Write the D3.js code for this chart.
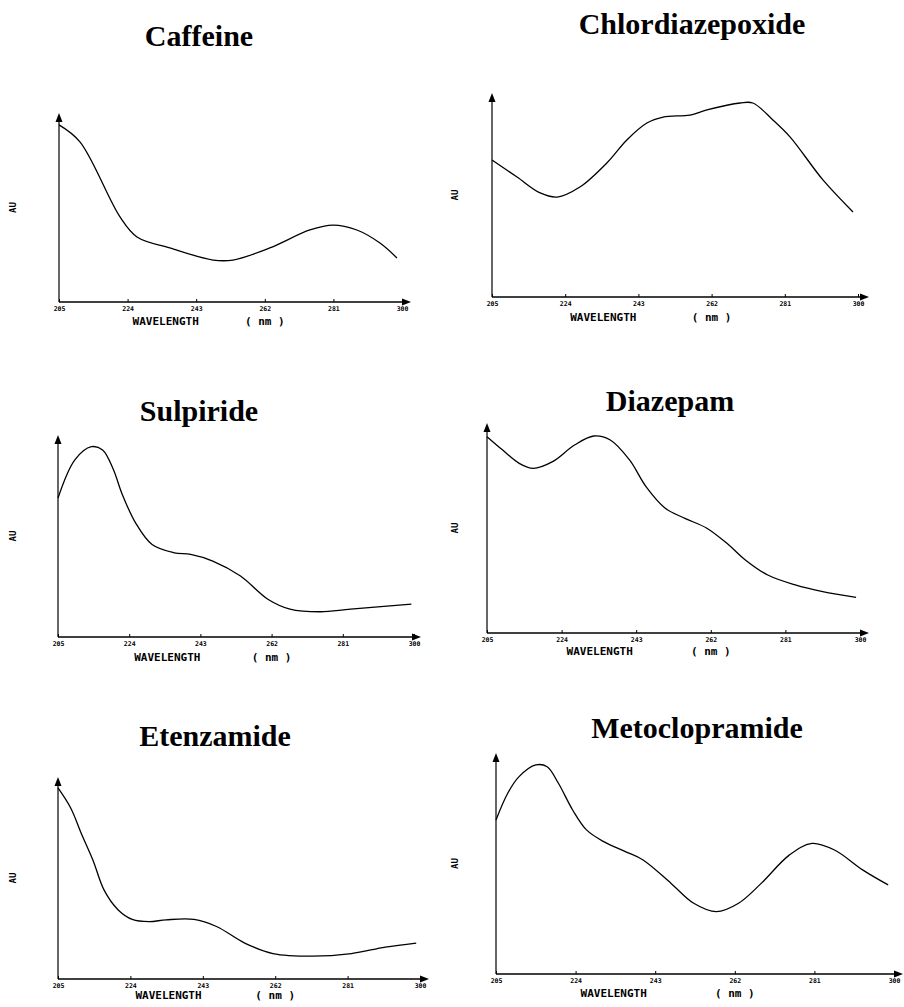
<!DOCTYPE html>
<html>
<head>
<meta charset="utf-8">
<script src="https://cdn.jsdelivr.net/npm/d3@7"></script>
<style>
  body { margin: 0; background: #fff; }
  svg { display: block; }
</style>
</head>
<body>
<div id="chart"></div>
<script>
// wavelength ticks (nm)
var xTickLabels = [205, 224, 243, 262, 281, 300];

// spectra: wavelength (nm) and relative absorbance (AU, 0..1 of the axis)
var caffeineWl = [205, 210.8, 221.9, 226.6, 235.7, 247.7, 253.2, 263.4, 274.5, 280.9, 287.5, 293.9, 298.6];
var caffeineAu = [0.937, 0.847, 0.450, 0.344, 0.286, 0.222, 0.222, 0.286, 0.381, 0.407, 0.381, 0.312, 0.233];

var chlordiazepoxideWl = [205, 211.5, 217.5, 221.9, 227.8, 234.8, 240, 245.2, 249.4, 256.4, 260.8, 269.4, 272.7, 277.9, 282.4, 290.9, 298.7];
var chlordiazepoxideAu = [0.672, 0.588, 0.510, 0.490, 0.539, 0.657, 0.770, 0.853, 0.882, 0.892, 0.917, 0.951, 0.951, 0.868, 0.784, 0.574, 0.417];

var sulpirideWl = [205, 209.5, 213.9, 216.9, 219.8, 222.0, 225.7, 230.1, 236.0, 240.4, 246.3, 253.7, 261.0, 266.9, 275.0, 283.1, 299.3];
var sulpirideAu = [0.688, 0.877, 0.942, 0.926, 0.828, 0.713, 0.565, 0.458, 0.417, 0.409, 0.376, 0.302, 0.187, 0.138, 0.125, 0.138, 0.163];

var diazepamWl = [205, 209.0, 213.2, 216.8, 221.7, 227.3, 232.2, 236.4, 241.3, 245.5, 250.4, 255.4, 261.0, 266.6, 270.8, 276.5, 283.5, 290.5, 299.0];
var diazepamAu = [0.935, 0.871, 0.808, 0.784, 0.816, 0.895, 0.938, 0.919, 0.824, 0.697, 0.594, 0.546, 0.499, 0.419, 0.348, 0.276, 0.229, 0.197, 0.170];

var etenzamideWl = [205, 208.3, 211.2, 214.2, 217.1, 220.8, 224.5, 228.9, 233.4, 240.7, 246.6, 254.0, 261.4, 271.7, 282.0, 290.9, 299];
var etenzamideAu = [0.946, 0.848, 0.717, 0.587, 0.440, 0.342, 0.295, 0.284, 0.293, 0.295, 0.260, 0.178, 0.126, 0.113, 0.126, 0.158, 0.178];

var metoclopramideWl = [205, 207.8, 210.5, 214.5, 217.2, 219.9, 223.3, 226.6, 230.7, 236.0, 240.1, 246.8, 252.2, 257.6, 262.9, 268.3, 275.0, 280.4, 285.8, 292.5, 298.6];
var metoclopramideAu = [0.697, 0.818, 0.893, 0.946, 0.938, 0.863, 0.742, 0.652, 0.599, 0.553, 0.516, 0.410, 0.320, 0.282, 0.320, 0.410, 0.538, 0.591, 0.561, 0.471, 0.403];

var titles = ["Caffeine", "Chlordiazepoxide", "Sulpiride", "Diazepam", "Etenzamide", "Metoclopramide"];
var series = [
    [caffeineWl, caffeineAu],
    [chlordiazepoxideWl, chlordiazepoxideAu],
    [sulpirideWl, sulpirideAu],
    [diazepamWl, diazepamAu],
    [etenzamideWl, etenzamideAu],
    [metoclopramideWl, metoclopramideAu]
];

// where each little plot sits on the page (wy = gap from axis to WAVELENGTH baseline)
var layout = [
    {x0: 59,  x1: 402, tip: 411, top: 113, base: 302, tx: 199, ty: 46,  aux: 13,  wy: 23},
    {x0: 492, x1: 858, tip: 869, top: 93,  base: 297, tx: 692, ty: 34,  aux: 455, wy: 24},
    {x0: 58,  x1: 414, tip: 421, top: 435, base: 637, tx: 199, ty: 421, aux: 13,  wy: 24},
    {x0: 487, x1: 860, tip: 869, top: 423, base: 633, tx: 670, ty: 411, aux: 455, wy: 22},
    {x0: 58,  x1: 420, tip: 429, top: 777, base: 979, tx: 215, ty: 746, aux: 13,  wy: 20},
    {x0: 496, x1: 894, tip: 903, top: 753, base: 974, tx: 697, ty: 738, aux: 455, wy: 23}
];

var svg = d3.select("#chart")
    .append("svg")
    .attr("width", 904)
    .attr("height", 1007);

function drawPanel(i) {
    var p = layout[i];
    var wl = series[i][0], au = series[i][1];
    var g = svg.append("g");

    var x = d3.scaleLinear().domain([205, 300]).range([p.x0, p.x1]);
    var y = d3.scaleLinear().domain([0, 1]).range([p.base, p.top]);

    // title
    g.append("text")
        .attr("x", p.tx)
        .attr("y", p.ty)
        .attr("text-anchor", "middle")
        .style("font-family", "'Liberation Serif', 'Times New Roman', serif")
        .style("font-weight", "bold")
        .style("font-size", "30px")
        .text(titles[i]);

    // x axis with small upward ticks
    var xAxis = g.append("g")
        .attr("transform", "translate(0," + p.base + ")")
        .call(d3.axisBottom(x).tickValues(xTickLabels).tickSize(-3).tickSizeOuter(0).tickPadding(4));
    xAxis.select(".domain").remove();
    xAxis.selectAll("line").attr("stroke", "#000").attr("stroke-width", 1);
    xAxis.selectAll("text")
        .style("font-family", "'DejaVu Sans Mono', monospace")
        .style("font-weight", "bold")
        .style("font-size", "6.5px")
        .attr("fill", "#000");

    g.append("line")
        .attr("x1", p.x0).attr("y1", p.base)
        .attr("x2", p.tip - 6).attr("y2", p.base)
        .attr("stroke", "#000").attr("stroke-width", 1.7);
    g.append("path")
        .attr("d", "M" + p.tip + "," + p.base + "L" + (p.tip - 9) + "," + (p.base - 3.5) + "L" + (p.tip - 9) + "," + (p.base + 3.5) + "Z")
        .attr("fill", "#000");

    // y axis with arrow
    g.append("line")
        .attr("x1", p.x0).attr("y1", p.base)
        .attr("x2", p.x0).attr("y2", p.top + 6)
        .attr("stroke", "#000").attr("stroke-width", 1.2);
    g.append("path")
        .attr("d", "M" + p.x0 + "," + p.top + "L" + (p.x0 - 3.5) + "," + (p.top + 9) + "L" + (p.x0 + 3.5) + "," + (p.top + 9) + "Z")
        .attr("fill", "#000");

    // axis titles
    g.append("text")
        .attr("x", x(224) + 5)
        .attr("y", p.base + p.wy)
        .style("font-family", "'DejaVu Sans Mono', monospace")
        .style("font-weight", "bold")
        .style("font-size", "11px")
        .text("WAVELENGTH");
    g.append("text")
        .attr("x", x(262))
        .attr("y", p.base + p.wy)
        .attr("text-anchor", "middle")
        .style("font-family", "'DejaVu Sans Mono', monospace")
        .style("font-weight", "bold")
        .style("font-size", "11px")
        .attr("xml:space", "preserve")
        .text("( nm )");
    g.append("text")
        .attr("transform", "translate(" + p.aux + "," + ((p.top + p.base) / 2) + ") rotate(-90)")
        .attr("text-anchor", "middle")
        .attr("dy", "0.35em")
        .style("font-family", "'DejaVu Sans Mono', monospace")
        .style("font-weight", "bold")
        .style("font-size", "9px")
        .text("AU");

    // the spectrum
    var line = d3.line()
        .x(function(d) { return x(d[0]); })
        .y(function(d) { return y(d[1]); })
        .curve(d3.curveCatmullRom.alpha(0.5));
    g.append("path")
        .datum(d3.zip(wl, au))
        .attr("d", line)
        .attr("fill", "none")
        .attr("stroke", "#000")
        .attr("stroke-width", 1.3);
}

for (var i = 0; i < titles.length; i++) {
    drawPanel(i);
}
</script>
</body>
</html>
